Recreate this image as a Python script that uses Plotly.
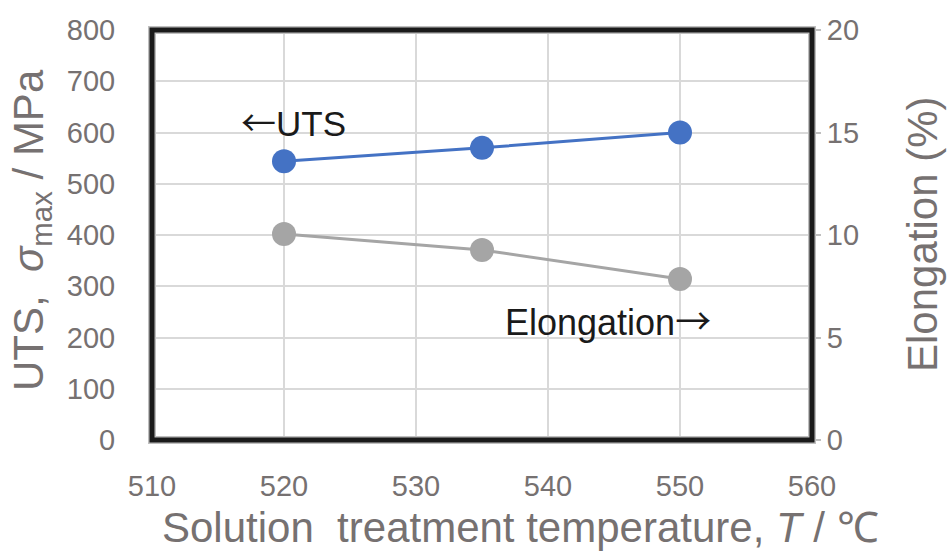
import plotly.graph_objects as go

temps = [520, 535, 550]
uts = [544, 570, 600]
elong = [10.05, 9.27, 7.85]

x_ticks = [510, 520, 530, 540, 550, 560]
y1_ticks = [0, 100, 200, 300, 400, 500, 600, 700, 800]
y2_ticks = [0, 5, 10, 15, 20]

GREY_TXT = "#767171"
FONT = "Liberation Sans, Arial, sans-serif"
ARROW = "font-family:'Noto Sans CJK JP'"

L, R, T, B = 152, 812, 30, 440
PW, PH = R - L, B - T


def px(xp):
    return (xp - L) / PW


def py(yp):
    return (B - yp) / PH


fig = go.Figure()
fig.add_trace(go.Scatter(x=temps, y=uts, mode="lines+markers",
                         line=dict(color="#4472C4", width=3),
                         marker=dict(size=24, color="#4472C4"),
                         yaxis="y", showlegend=False))
fig.add_trace(go.Scatter(x=temps, y=elong, mode="lines+markers",
                         line=dict(color="#A5A5A5", width=3),
                         marker=dict(size=24, color="#A5A5A5"),
                         yaxis="y2", showlegend=False))

fig.update_layout(
    width=947, height=552,
    margin=dict(l=L, r=947 - R, t=T, b=552 - B),
    paper_bgcolor="white", plot_bgcolor="white",
    font=dict(family=FONT, color=GREY_TXT, size=29),
    xaxis=dict(range=[510, 560], tickvals=x_ticks, showgrid=True,
               gridcolor="#d9d9d9", gridwidth=1.5, zeroline=False,
               ticks="outside", ticklen=20, tickcolor="rgba(0,0,0,0)",
               tickfont=dict(size=29, color=GREY_TXT), showline=False),
    yaxis=dict(range=[0, 800], tickvals=y1_ticks, showgrid=True,
               gridcolor="#d9d9d9", gridwidth=1.5, zeroline=False,
               ticks="outside", ticklen=30, tickcolor="rgba(0,0,0,0)",
               tickfont=dict(size=29, color=GREY_TXT), showline=False),
    yaxis2=dict(range=[0, 20], tickvals=y2_ticks, overlaying="y", side="right",
                showgrid=False, zeroline=False, ticks="outside", ticklen=8,
                tickcolor="#bfbfbf", tickwidth=1.5,
                tickfont=dict(size=29, color=GREY_TXT), showline=False),
)

# frame
fig.add_shape(type="rect", xref="paper", yref="paper", x0=0, x1=1, y0=0, y1=1,
              line=dict(color="#bfbfbf", width=8), layer="above")
fig.add_shape(type="rect", xref="paper", yref="paper", x0=0, x1=1, y0=0, y1=1,
              line=dict(color="#1a1a1a", width=5), layer="above")

# in-plot labels
fig.add_annotation(x=px(239), y=py(121), xref="paper", yref="paper",
                   text=f"<span style=\"{ARROW}\">←</span>UTS", showarrow=False,
                   font=dict(size=35, color="#1a1a1a", family=FONT),
                   xanchor="left", yanchor="middle")
fig.add_annotation(x=px(503), y=py(319), xref="paper", yref="paper",
                   text=f"Elongation<span style=\"{ARROW}\">→</span>", showarrow=False,
                   font=dict(size=36, color="#1a1a1a", family=FONT),
                   xanchor="left", yanchor="middle")

# axis titles
fig.add_annotation(xref="paper", yref="paper", x=px(520), y=py(527),
                   text="Solution  treatment temperature, <i>T</i> / ℃", showarrow=False,
                   font=dict(size=42, color=GREY_TXT, family=FONT),
                   xanchor="center", yanchor="middle")
fig.add_annotation(xref="paper", yref="paper", x=px(31), y=py(230),
                   text="UTS,  <i>σ</i><sub>max</sub> / MPa", showarrow=False, textangle=-90,
                   font=dict(size=42, color=GREY_TXT, family=FONT),
                   xanchor="center", yanchor="middle")
fig.add_annotation(xref="paper", yref="paper", x=px(922), y=py(235),
                   text="Elongation (%)", showarrow=False, textangle=-90,
                   font=dict(size=42, color=GREY_TXT, family=FONT),
                   xanchor="center", yanchor="middle")

fig.write_html("out.html")
